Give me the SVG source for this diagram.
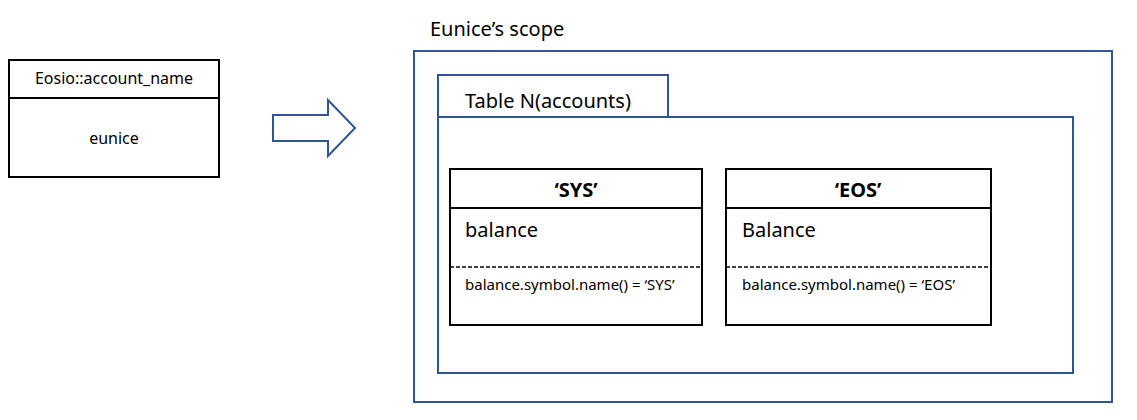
<svg xmlns="http://www.w3.org/2000/svg" width="1137" height="420" viewBox="0 0 1137 420">
<style>
text{font-family:"Noto Sans","Liberation Sans",sans-serif;fill:#000}
.blk{fill:#fff;stroke:#000;stroke-width:2}
.blu{fill:#fff;stroke:#2F5597;stroke-width:2}
.ln{stroke:#000;stroke-width:2;fill:none}
.dash{stroke:#000;stroke-width:1.5;stroke-dasharray:4 2;fill:none}
.s16{font-size:16px}
.s20{font-size:20px}
.s14{font-size:15px}
</style>
<rect width="1137" height="420" fill="#fff"/>
<g id="account">
<rect class="blk" x="9" y="60" width="210" height="117"/>
<line class="ln" x1="9" y1="98" x2="219" y2="98"/>
<text class="s16" x="114" y="84" text-anchor="middle">Eosio::account_name</text>
<text class="s16" x="114" y="144" text-anchor="middle">eunice</text>
</g>
<g id="connectors">
<polygon points="273,115 328,115 328,100 355,128 328,156 328,141 273,141" fill="#fff" stroke="#2F5597" stroke-width="2"/>
</g>
<g id="scope">
<text class="s20" x="430" y="36">Eunice’s scope</text>
<rect class="blu" x="414" y="51" width="698" height="351"/>
</g>
<g id="table">
<rect class="blu" x="438" y="75" width="230" height="42"/>
<rect class="blu" x="438" y="117" width="635" height="256"/>
<text class="s20" x="465" y="108">Table N(accounts)</text>
</g>
<g id="sys">
<rect class="blk" x="450" y="169" width="252" height="156"/>
<line class="ln" x1="450" y1="208" x2="702" y2="208"/>
<line class="dash" x1="450" y1="267" x2="702" y2="267"/>
<text class="s20" x="576" y="197" text-anchor="middle" font-weight="bold">‘SYS’</text>
<text class="s20" x="465" y="237">balance</text>
<text class="s14" x="465" y="290">balance.symbol.name() = ‘SYS’</text>
</g>
<g id="eos">
<rect class="blk" x="726" y="169" width="265" height="156"/>
<line class="ln" x1="726" y1="208" x2="991" y2="208"/>
<line class="dash" x1="726" y1="267" x2="991" y2="267"/>
<text class="s20" x="858" y="197" text-anchor="middle" font-weight="bold">‘EOS’</text>
<text class="s20" x="742" y="237">Balance</text>
<text class="s14" x="742" y="290">balance.symbol.name() = ‘EOS’</text>
</g>
</svg>
